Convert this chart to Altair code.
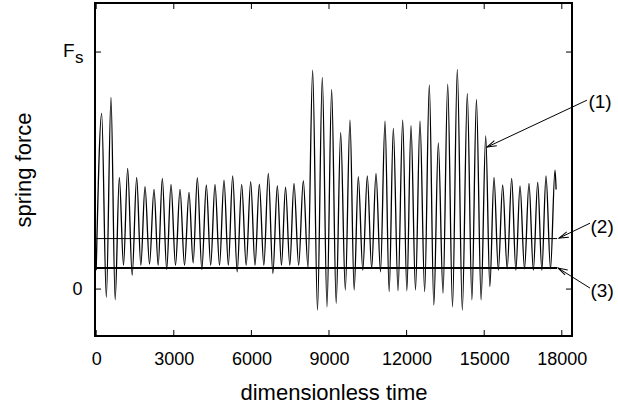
import altair as alt
import pandas as pd

FONT = "Liberation Sans"

# ---- signal extrema ----
start_t, start_f = 0, 0.08
end_t, end_f = 17780, 0.42

peak_t = [212, 572, 894, 1217, 1565, 1887, 2235, 2557, 2892, 3240,
          3588, 3910, 4258, 4593, 4941, 5276, 5624, 5972, 6307, 6655,
          7003, 7320, 7647, 8007, 8368, 8741, 9103, 9451, 9811, 10133,
          10481, 10817, 11165, 11487, 11849, 12170, 12518, 12878, 13226, 13589,
          13960, 14347, 14700, 15058, 15378, 15714, 16062, 16384, 16731, 17068,
          17389, 17737]
peak_f = [0.741, 0.809, 0.471, 0.509, 0.471, 0.432, 0.421, 0.467, 0.442, 0.421,
          0.408, 0.470, 0.439, 0.442, 0.460, 0.478, 0.442, 0.453, 0.443, 0.488,
          0.436, 0.430, 0.446, 0.457, 0.924, 0.893, 0.842, 0.660, 0.713, 0.474,
          0.477, 0.488, 0.709, 0.678, 0.713, 0.689, 0.709, 0.861, 0.617, 0.865,
          0.927, 0.826, 0.800, 0.646, 0.471, 0.439, 0.467, 0.435, 0.446, 0.451,
          0.477, 0.502]
trough_t = [392, 733, 1056, 1391, 1726, 2061, 2396, 2725, 3066, 3414,
            3749, 4084, 4426, 4767, 5109, 5450, 5798, 6140, 6481, 6829,
            7162, 7484, 7827, 8188, 8555, 8922, 9277, 9631, 9972, 10307,
            10649, 10991, 11326, 11668, 12010, 12344, 12698, 13052, 13408, 13775,
            14154, 14524, 14879, 15218, 15546, 15888, 16223, 16558, 16900, 17229,
            17563]
trough_f = [-0.035, -0.045, 0.100, 0.059, 0.100, 0.105, 0.100, 0.083, 0.100, 0.100,
            0.110, 0.083, 0.100, 0.100, 0.100, 0.073, 0.100, 0.100, 0.100, 0.066,
            0.100, 0.100, 0.100, 0.090, -0.089, -0.075, -0.060, -0.004, -0.004, 0.080,
            0.087, 0.073, -0.011, -0.007, -0.007, -0.004, -0.011, -0.068, -0.018, -0.075,
            -0.089, -0.046, -0.046, 0.010, 0.080, 0.085, 0.080, 0.085, 0.080, 0.080,
            0.085]

# horizontal reference levels (2) and (3)
level_f = [0.213, 0.089]
level_w = [1.0, 2.2]
level_t0 = [0, 0]
level_t1 = [17815, 17815]

# annotations
ann_label = ["(1)", "(2)", "(3)"]
ann_text_t = [19030, 19110, 19110]
ann_text_f = [0.789, 0.262, -0.010]
arrow_t0 = [18973, 19090, 19090]
arrow_f0 = [0.797, 0.278, 0.004]
arrow_t1 = [15108, 17892, 17853]
arrow_f1 = [0.599, 0.215, 0.089]
arrow_angle = [245, 248, 298]

x_ticks = [0, 3000, 6000, 9000, 12000, 15000, 18000]
y_ticks = [0, 1]

# ---- build tables ----
sig_t, sig_f = [start_t], [start_f]
for i in range(len(peak_t)):
    sig_t.append(peak_t[i]); sig_f.append(peak_f[i])
    if i < len(trough_t):
        sig_t.append(trough_t[i]); sig_f.append(trough_f[i])
sig_t.append(end_t); sig_f.append(end_f)
signal = pd.DataFrame({"t": sig_t, "f": sig_f, "o": list(range(len(sig_t)))})
levels = pd.DataFrame({"f": level_f, "w": level_w, "t0": level_t0, "t1": level_t1})
ann = pd.DataFrame({"label": ann_label, "tt": ann_text_t, "tf": ann_text_f,
                    "t0": arrow_t0, "f0": arrow_f0, "t1": arrow_t1, "f1": arrow_f1,
                    "a": arrow_angle})
xt = pd.DataFrame({"v": x_ticks})
yt = pd.DataFrame({"v": y_ticks})
one = pd.DataFrame({"k": [0]})

W, H = 477, 333
XS = alt.Scale(domain=[-46, 18394], nice=False, zero=False)
YS = alt.Scale(domain=[-0.198, 1.207], nice=False, zero=False)

x_axis = alt.Axis(values=x_ticks, format="d", title="dimensionless time", ticks=False,
                  domain=False, grid=False, labelFont=FONT, labelFontSize=18,
                  labelColor="black", labelPadding=14, labelFlush=False, titleFont=FONT,
                  titleFontSize=22, titleFontWeight="normal", titleColor="black",
                  titleBaseline="middle", titleY=56)
y_axis = alt.Axis(values=y_ticks, labelExpr="datum.value == 0 ? '0' : ''",
                  title="spring force", ticks=False, domain=False, grid=False,
                  labelFont=FONT, labelFontSize=18, labelColor="black", labelPadding=13,
                  titleFont=FONT, titleFontSize=22, titleFontWeight="normal",
                  titleColor="black", titleBaseline="middle", titleX=-72, titleY=H / 2)

line = alt.Chart(signal).mark_line(color="#000000", strokeWidth=1.3, interpolate="monotone").encode(
    x=alt.X("t:Q", scale=XS, axis=x_axis),
    y=alt.Y("f:Q", scale=YS, axis=y_axis),
    order="o:Q",
)

lev = alt.Chart(levels).mark_rule(color="black").encode(
    x=alt.X("t0:Q", scale=XS), x2="t1:Q",
    y=alt.Y("f:Q", scale=YS),
    strokeWidth=alt.StrokeWidth("w:Q", scale=None),
)

arrows = alt.Chart(ann).mark_rule(color="black", strokeWidth=1).encode(
    x=alt.X("t0:Q", scale=XS), x2="t1:Q",
    y=alt.Y("f0:Q", scale=YS), y2="f1:Q",
)
heads = alt.Chart(ann).mark_point(shape="M -0.6 2 L 0 0 L 0.6 2", filled=False,
                                  color="black", strokeWidth=1, size=90, opacity=1).encode(
    x=alt.X("t1:Q", scale=XS), y=alt.Y("f1:Q", scale=YS),
    angle=alt.Angle("a:Q", scale=None),
)
labels = alt.Chart(ann).mark_text(align="left", baseline="middle", font=FONT,
                                  fontSize=19, color="black").encode(
    x=alt.X("tt:Q", scale=XS), y=alt.Y("tf:Q", scale=YS), text="label:N",
)

tick_len = 6
xb = alt.Chart(xt).mark_rule(color="black", strokeWidth=1).encode(
    x=alt.X("v:Q", scale=XS), y=alt.value(H), y2=alt.value(H - tick_len))
xtop = alt.Chart(xt).mark_rule(color="black", strokeWidth=1).encode(
    x=alt.X("v:Q", scale=XS), y=alt.value(0), y2=alt.value(tick_len))
yl = alt.Chart(yt).mark_rule(color="black", strokeWidth=1).encode(
    y=alt.Y("v:Q", scale=YS), x=alt.value(0), x2=alt.value(tick_len))
yr = alt.Chart(yt).mark_rule(color="black", strokeWidth=1).encode(
    y=alt.Y("v:Q", scale=YS), x=alt.value(W), x2=alt.value(W - tick_len))

fs_F = alt.Chart(one).mark_text(align="left", baseline="alphabetic", font=FONT,
                                fontSize=19, color="black", text="F").encode(
    x=alt.value(-32), y=alt.value(54))
fs_s = alt.Chart(one).mark_text(align="left", baseline="alphabetic", font=FONT,
                                fontSize=17, color="black", text="s").encode(
    x=alt.value(-20), y=alt.value(60))

chart = alt.layer(line, lev, xb, xtop, yl, yr, arrows, heads, labels, fs_F, fs_s).properties(
    width=W, height=H, autosize="none", background="white",
    padding={"left": 95, "top": 3, "right": 46, "bottom": 75},
).configure_view(stroke="black", strokeWidth=2)

chart.save("out.html", embed_options={"renderer": "svg", "actions": False})
